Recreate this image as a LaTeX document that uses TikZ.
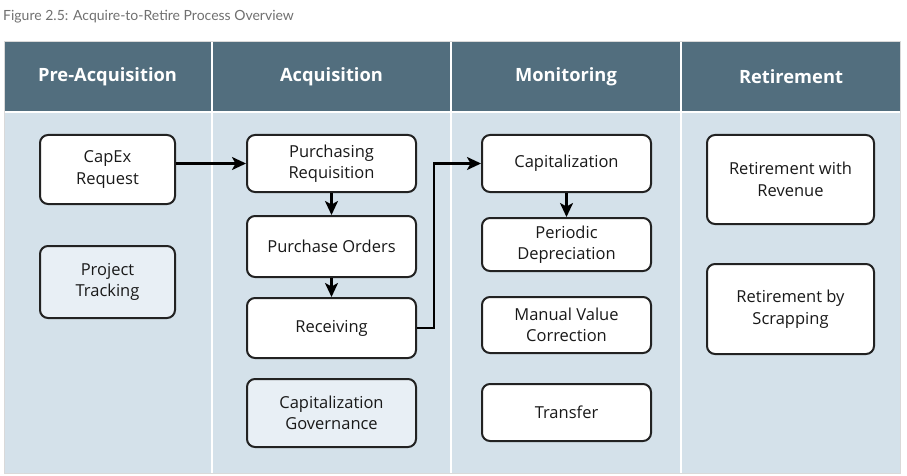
\documentclass[tikz,border=0pt]{standalone}
\usepackage{fontspec}
\setmainfont{Open Sans}
\newfontfamily\titlefont{Lato}
\usetikzlibrary{arrows.meta}
\definecolor{hdr}{HTML}{526E7E}
\definecolor{bodybg}{HTML}{D4E1EA}
\definecolor{lightbox}{HTML}{E8EFF5}
\definecolor{titlegray}{HTML}{707070}
\definecolor{edge}{HTML}{222222}
\tikzset{
  procbox/.style={draw=edge, line width=2pt, rounded corners=8pt, fill=white, align=center,
    inner sep=2pt, font=\fontsize{16.5}{21.5}\selectfont, text=black!90},
  lightproc/.style={procbox, fill=lightbox},
  hdrlabel/.style={font=\bfseries\fontsize{18.3}{21}\selectfont, text=white},
  arr/.style={line width=2.2pt, draw=black, -{Stealth[length=14pt,width=13pt,inset=3.5pt]}},
  divider/.style={draw=white, line width=2pt}
}
\begin{document}
\begin{tikzpicture}[x=1pt,y=-1pt]
\useasboundingbox (0,0) rectangle (907,476);
\fill[white] (0,0) rectangle (907,476);
\node[anchor=west, text=titlegray, font=\titlefont\fontsize{14}{16}\selectfont, inner sep=0pt] (title) at (3,17) {Figure 2.5: Acquire-to-Retire Process Overview};
% table
\fill[hdr] (4,41) rectangle (900,112);
\fill[bodybg] (4,113) rectangle (900,473);
\draw[divider] (4,112.5) -- (900,112.5);
\draw[divider] (212,41) -- (212,473);
\draw[divider] (451,41) -- (451,473);
\draw[divider] (681,41) -- (681,473);
\draw[draw=black!15, line width=0.6pt] (4,41) rectangle (900,473);
% headers
\node[hdrlabel] (h1) at (107.5,77) {Pre-Acquisition};
\node[hdrlabel] (h2) at (331.5,77) {Acquisition};
\node[hdrlabel] (h3) at (566,77) {Monitoring};
\node[hdrlabel] (h4) at (791,77) {Retirement};
% boxes
\node[procbox, minimum width=135pt, minimum height=69pt] (capex) at (107.5,169.5) {CapEx\\Request};
\node[lightproc, minimum width=135pt, minimum height=72pt] (ptrack) at (107.5,282) {Project\\Tracking};
\node[procbox, minimum width=169pt, minimum height=57pt] (preq) at (331.5,163.5) {Purchasing\\Requisition};
\node[procbox, minimum width=169pt, minimum height=61pt] (po) at (331.5,246.5) {Purchase Orders};
\node[procbox, minimum width=169pt, minimum height=60pt] (recv) at (331.5,328) {Receiving};
\node[lightproc, minimum width=169pt, minimum height=68pt] (cgov) at (331.5,413) {Capitalization\\Governance};
\node[procbox, minimum width=169pt, minimum height=57pt] (cap) at (566.5,163.5) {Capitalization};
\node[procbox, minimum width=169pt, minimum height=53pt] (pdep) at (566.5,244.5) {Periodic\\Depreciation};
\node[procbox, minimum width=169pt, minimum height=56pt] (mvc) at (566.5,325) {Manual Value\\Correction};
\node[procbox, minimum width=169pt, minimum height=57pt] (trans) at (566.5,412.5) {Transfer};
\node[procbox, minimum width=167pt, minimum height=89pt] (rrev) at (790.5,179.5) {Retirement with\\Revenue};
\node[procbox, minimum width=167pt, minimum height=90pt] (rscrap) at (790.5,309) {Retirement by\\Scrapping};
% connectors
\draw[arr] (capex.east |- preq.west) -- (preq.west);
\draw[arr] (preq.south) -- (po.north);
\draw[arr] (po.south) -- (recv.north);
\draw[arr] (recv.east) -- ++(17,0) |- (cap.west);
\draw[arr] (cap.south) -- (pdep.north);
\end{tikzpicture}
\end{document}
